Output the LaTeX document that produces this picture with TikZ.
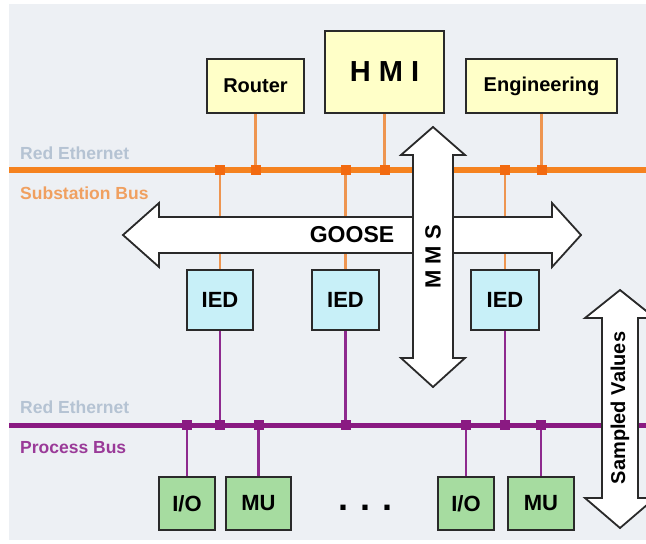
\documentclass[tikz,border=0pt]{standalone}
\usepackage{fontspec}
\setmainfont{Liberation Sans}
\definecolor{bg}{HTML}{EDF0F4}
\definecolor{busorange}{HTML}{F5821F}
\definecolor{conorange}{HTML}{EE9550}
\definecolor{sqorange}{HTML}{F26A10}
\definecolor{buspurple}{HTML}{8A1A82}
\definecolor{conpurple}{HTML}{8E2A8E}
\definecolor{ethgray}{HTML}{B5C3D3}
\definecolor{sblabel}{HTML}{F0A060}
\definecolor{pblabel}{HTML}{9A3A98}
\definecolor{yfill}{HTML}{FFFFC8}
\definecolor{cfill}{HTML}{C8F0F8}
\definecolor{gfill}{HTML}{A6DCA0}
\definecolor{edge}{HTML}{2A2A2A}
\begin{document}
\begin{tikzpicture}[x=1pt,y=-1pt,
  box/.style={draw=edge, line width=2pt, inner sep=0pt, font=\bfseries\fontsize{20}{24}\selectfont},
  ybox/.style={box, fill=yfill},
  cbox/.style={box, fill=cfill, font=\bfseries\fontsize{22}{26}\selectfont},
  gbox/.style={box, fill=gfill, font=\bfseries\fontsize{22}{26}\selectfont},
  sbus/.style={busorange, line width=5.5pt},
  pbus/.style={buspurple, line width=5pt},
  ocon/.style={conorange, line width=2.8pt},
  pcon/.style={conpurple, line width=2.4pt},
  osq/.style={fill=sqorange, draw=none, minimum size=10pt, inner sep=0pt},
  psq/.style={fill=buspurple, draw=none, minimum size=10pt, inner sep=0pt},
  bigarrow/.style={draw=edge, fill=white, line width=1.8pt, line join=miter},
  arrowtext/.style={font=\bfseries\fontsize{22}{26}\selectfont},
  buslabel/.style={anchor=west, inner sep=0pt, font=\bfseries\fontsize{17.5}{20}\selectfont}
]
\useasboundingbox (0,0) rectangle (646,544);
\fill[bg] (9,4) rectangle (646,540);

% substation level boxes
\node[ybox, minimum width=97pt, minimum height=54pt] (router) at (255.5,86) {Router};
\node[ybox, minimum width=119pt, minimum height=82pt, font=\bfseries\fontsize{29}{34}\selectfont] (hmi) at (384.5,72) {H M I};
\node[ybox, minimum width=151pt, minimum height=54pt] (eng) at (541.5,86) {Engineering};

% IEDs
\node[cbox, minimum width=66pt, minimum height=60pt] (ied1) at (220,300) {IED};
\node[cbox, minimum width=67pt, minimum height=60pt] (ied2) at (345.5,300) {IED};
\node[cbox, minimum width=68pt, minimum height=60pt] (ied3) at (505,300) {IED};

% process level boxes
\node[gbox, minimum width=56pt, minimum height=53pt] (io1) at (187,503.5) {I/O};
\node[gbox, minimum width=65pt, minimum height=53pt] (mu1) at (258.5,503.5) {MU};
\node[gbox, minimum width=56pt, minimum height=53pt] (io2) at (466,503.5) {I/O};
\node[gbox, minimum width=66pt, minimum height=53pt] (mu2) at (541,503.5) {MU};
\node[font=\bfseries\fontsize{36}{40}\selectfont] (dots) at (366,508) {.\,\,.\,\,.};

% bus end points
\coordinate (sbL) at (9,170);
\coordinate (sbR) at (646,170);
\coordinate (pbL) at (9,425);
\coordinate (pbR) at (646,425);

% junctions on the substation bus
\coordinate (sjr) at (255.5,170);
\coordinate (sjh) at (384.5,170);
\coordinate (sje) at (541.5,170);
\coordinate (sj1) at (220,170);
\coordinate (sj2) at (345.5,170);
\coordinate (sj3) at (505,170);
% junctions on the process bus
\coordinate (pj1) at (220,425);
\coordinate (pj2) at (345.5,425);
\coordinate (pj3) at (505,425);
\coordinate (pio1) at (187,425);
\coordinate (pmu1) at (258.5,425);
\coordinate (pio2) at (466,425);
\coordinate (pmu2) at (541,425);

% connectors
\draw[ocon] (router.south) -- (sjr);
\draw[ocon] (hmi.south) -- (sjh);
\draw[ocon] (eng.south) -- (sje);
\draw[ocon] (ied1.north) -- (sj1);
\draw[ocon] (ied2.north) -- (sj2);
\draw[ocon] (ied3.north) -- (sj3);
\draw[pcon] (ied1.south) -- (pj1);
\draw[pcon] (ied2.south) -- (pj2);
\draw[pcon] (ied3.south) -- (pj3);
\draw[pcon] (io1.north) -- (pio1);
\draw[pcon] (mu1.north) -- (pmu1);
\draw[pcon] (io2.north) -- (pio2);
\draw[pcon] (mu2.north) -- (pmu2);

% buses
\draw[sbus] (sbL) -- (sbR);
\draw[pbus] (pbL) -- (pbR);
\foreach \c in {sjr,sjh,sje,sj1,sj2,sj3} \node[osq] at (\c) {};
\foreach \c in {pj1,pj2,pj3,pio1,pmu1,pio2,pmu2} \node[psq] at (\c) {};

% bus labels
\node[buslabel, text=ethgray] (eth1) at (20,153) {Red Ethernet};
\node[buslabel, text=sblabel] (sblab) at (20,193) {Substation Bus};
\node[buslabel, text=ethgray] (eth2) at (20,407) {Red Ethernet};
\node[buslabel, text=pblabel] (pblab) at (20,448) {Process Bus};

% GOOSE arrow
\draw[bigarrow] (123,235) -- (159,203) -- (159,217) -- (552,217) -- (552,203) -- (581,235)
  -- (552,267) -- (552,253) -- (159,253) -- (159,267) -- cycle;
\node[arrowtext, font=\bfseries\fontsize{23}{27}\selectfont] (goose) at (352,235) {GOOSE};

% MMS arrow
\draw[bigarrow] (433,127) -- (401,155) -- (413,155) -- (413,358) -- (401,358) -- (433,387)
  -- (465,358) -- (453,358) -- (453,155) -- (465,155) -- cycle;
\node[arrowtext, rotate=90] (mms) at (433,257) {M M S};

% Sampled Values arrow
\draw[bigarrow] (620,290) -- (585,318) -- (602,318) -- (602,498) -- (585,498) -- (620,528)
  -- (655,498) -- (638,498) -- (638,318) -- (655,318) -- cycle;
\node[arrowtext, rotate=90, font=\bfseries\fontsize{20}{24}\selectfont] (sv) at (620,408) {Sampled Values};
\end{tikzpicture}
\end{document}
